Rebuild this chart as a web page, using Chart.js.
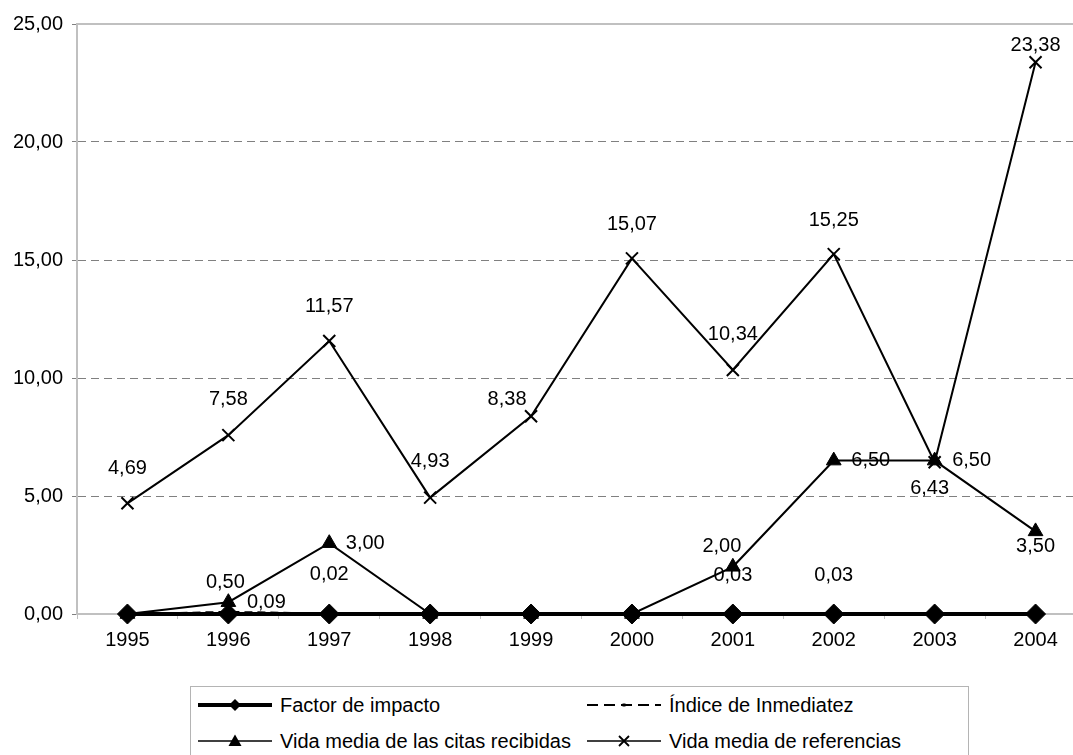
<!DOCTYPE html>
<html>
<head>
<meta charset="utf-8">
<script src="https://cdn.jsdelivr.net/npm/chart.js@4.4.1/dist/chart.umd.min.js"></script>
<style>
  html, body { margin: 0; padding: 0; background: #fff; overflow: hidden; width: 1073px; height: 755px; }
  #wrap { position: absolute; left: 0; top: 0; width: 1100px; height: 680px; }
  #legend { position: absolute; left: 190px; top: 686px; width: 777px; height: 68px; border: 1px solid #b4b4b4;
            font-family: "Liberation Sans", Arial, sans-serif; font-size: 20px; color: #000; }
  .item { position: absolute; display: flex; align-items: center; height: 24px; white-space: nowrap; }
  .item svg { margin-right: 8px; }
</style>
</head>
<body>
<div id="wrap"><canvas id="chart" width="1100" height="680"></canvas></div>
<div id="legend"></div>
<script>
// ── data ──
const years = ['1995', '1996', '1997', '1998', '1999', '2000', '2001', '2002', '2003', '2004'];
const factorImpacto    = [0, 0, 0, 0, 0, 0, 0, 0, 0, 0];
const indiceInmediatez = [0, 0.09, 0.02, 0, 0, 0, 0.03, 0.03, 0, 0];
const vidaCitas        = [0, 0.50, 3.00, 0, 0, 0, 2.00, 6.50, 6.50, 3.50];
const vidaReferencias  = [4.69, 7.58, 11.57, 4.93, 8.38, 15.07, 10.34, 15.25, 6.43, 23.38];
const yTicks = [0, 5, 10, 15, 20, 25];

const FONT = '"Liberation Sans", Arial, sans-serif';
const fmt = v => Number(v).toFixed(2).replace('.', ',');

// where each value label sits relative to its point (dx, dy), per dataset
const LABEL_OFFSETS = [
  [],
  [null, [38, -9], [0, -39], null, null, null, [0, -38], [0, -38], null, null],
  [null, [-3, -20], [36, 0], null, null, null, [-11, -20], [37, 0], [37, 0], [0, 15]],
  [[0, -35], [0, -36], [0, -34], [0, -36], [-24, -17], [0, -34], [0, -35], [0, -34], [-5, 26], [0, -17]]
];

const valueLabels = {
  id: 'valueLabels',
  afterDatasetsDraw(chart) {
    const ctx = chart.ctx;
    ctx.save();
    ctx.font = '20px ' + FONT;
    ctx.fillStyle = '#000';
    ctx.textAlign = 'center';
    ctx.textBaseline = 'middle';
    chart.data.datasets.forEach((ds, i) => {
      const meta = chart.getDatasetMeta(i);
      meta.data.forEach((pt, j) => {
        const v = ds.data[j];
        const o = (LABEL_OFFSETS[i] || [])[j];
        if (!v || !o) return;
        ctx.fillText(fmt(v), pt.x + o[0], pt.y + o[1]);
      });
    });
    ctx.restore();
  }
};

const topBorder = {
  id: 'topBorder',
  beforeDatasetsDraw(chart) {
    const { ctx, chartArea } = chart;
    ctx.save();
    ctx.strokeStyle = '#c0c0c0';
    ctx.lineWidth = 2;
    ctx.beginPath();
    ctx.moveTo(chartArea.left - 1, chartArea.top);
    ctx.lineTo(chartArea.right, chartArea.top);
    ctx.stroke();
    ctx.restore();
  }
};

new Chart(document.getElementById('chart'), {
  type: 'line',
  data: {
    labels: years,
    datasets: [
      { label: 'Factor de impacto', data: factorImpacto, borderColor: '#000', backgroundColor: '#000',
        borderWidth: 4, pointStyle: 'rectRot', pointRadius: 10, pointBorderWidth: 1, clip: false },
      { label: 'Índice de Inmediatez', data: indiceInmediatez, borderColor: '#000', backgroundColor: '#000',
        borderWidth: 2, borderDash: [8, 5], pointStyle: 'rect', pointRadius: 2, pointBorderWidth: 1, clip: false },
      { label: 'Vida media de las citas recibidas', data: vidaCitas, borderColor: '#000', backgroundColor: '#000',
        borderWidth: 2, pointStyle: 'triangle', pointRadius: 8.5, pointBorderWidth: 1, clip: false },
      { label: 'Vida media de referencias', data: vidaReferencias, borderColor: '#000', backgroundColor: '#000',
        borderWidth: 2, pointStyle: 'crossRot', pointRadius: 8.5, pointBorderWidth: 2, clip: false }
    ]
  },
  options: {
    responsive: false,
    animation: false,
    layout: { padding: { top: 24, right: 14, left: 0, bottom: 0 } },
    elements: { line: { tension: 0 } },
    plugins: { legend: { display: false }, tooltip: { enabled: false } },
    scales: {
      x: {
        offset: true,
        grid: { offset: true, drawOnChartArea: false, tickLength: 5, color: '#c0c0c0', tickColor: '#c0c0c0' },
        border: { color: '#c0c0c0', width: 2 },
        ticks: { color: '#000', font: { family: FONT, size: 20 }, padding: 9, maxRotation: 0, autoSkip: false },
        afterFit(s) { s.height = 66; }
      },
      y: {
        min: 0, max: 25,
        afterBuildTicks(s) { s.ticks = yTicks.map(v => ({ value: v })); },
        ticks: { color: '#000', font: { family: FONT, size: 20 }, padding: 9, callback: v => fmt(v) },
        grid: {
          color: c => (c.tick && (c.tick.value === 0 || c.tick.value === 25)) ? 'rgba(0,0,0,0)' : '#808080',
          tickColor: '#808080', tickLength: 5, lineWidth: 1
        },
        border: { color: '#c0c0c0', width: 2, dash: [8, 5] },
        afterFit(s) { s.width = 77; }
      }
    }
  },
  plugins: [valueLabels, topBorder]
});

// ── legend ──
const legendIcons = {
  'Factor de impacto':
    '<line x1="0" y1="12" x2="74" y2="12" stroke="#000" stroke-width="4"/><polygon points="37,6 43,12 37,18 31,12" fill="#000"/>',
  'Índice de Inmediatez':
    '<line x1="0" y1="12" x2="74" y2="12" stroke="#000" stroke-width="2" stroke-dasharray="11,6"/><rect x="35.5" y="10.5" width="3" height="3" fill="#000"/>',
  'Vida media de las citas recibidas':
    '<line x1="0" y1="12" x2="74" y2="12" stroke="#000" stroke-width="1.5"/><polygon points="37,5.5 43.5,17 30.5,17" fill="#000"/>',
  'Vida media de referencias':
    '<line x1="0" y1="12" x2="74" y2="12" stroke="#000" stroke-width="1.5"/><path d="M32,7 L42,17 M42,7 L32,17" stroke="#000" stroke-width="1.8"/>'
};
const legendPos = [[7, 6], [396, 6], [7, 42], [396, 42]];
const legendEl = document.getElementById('legend');
Object.keys(legendIcons).forEach((name, i) => {
  const d = document.createElement('div');
  d.className = 'item';
  d.style.left = legendPos[i][0] + 'px';
  d.style.top = legendPos[i][1] + 'px';
  d.innerHTML = `<svg width="74" height="24">${legendIcons[name]}</svg><span>${name}</span>`;
  legendEl.appendChild(d);
});
</script>
</body>
</html>
